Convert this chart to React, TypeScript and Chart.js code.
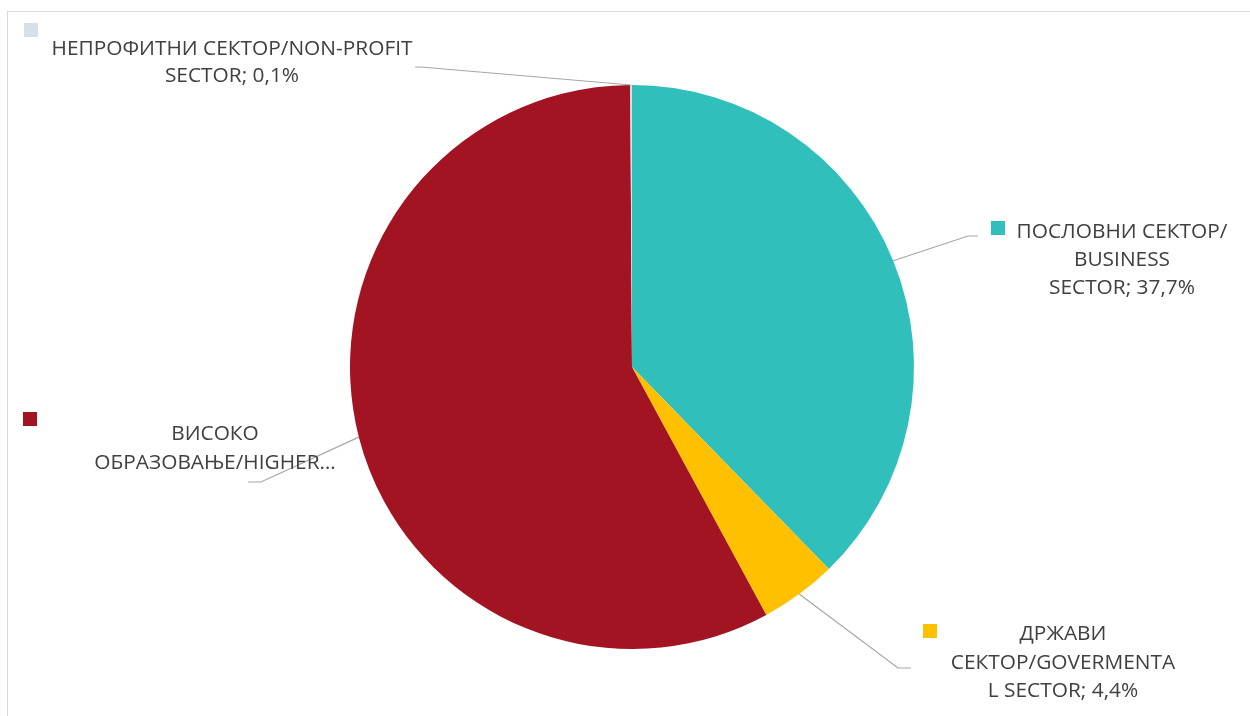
import React, { useEffect, useRef } from "react";
import { Chart, registerables } from "chart.js";

Chart.register(...registerables);

const categories = [
  "ПОСЛОВНИ СЕКТОР/BUSINESS SECTOR",
  "ДРЖАВИ СЕКТОР/GOVERMENTAL SECTOR",
  "ВИСОКО ОБРАЗОВАЊЕ/HIGHER EDUCATION",
  "НЕПРОФИТНИ СЕКТОР/NON-PROFIT SECTOR",
];
const values = [37.7, 4.4, 57.8, 0.1];
const colors = ["#31BFBC", "#FFC000", "#A21421", "#D5E1EA"];
// wrapped label lines as shown; "{v}" is replaced with the slice value
const labelLines = [
  ["ПОСЛОВНИ СЕКТОР/", "BUSINESS", "SECTOR; {v}"],
  ["ДРЖАВИ", "СЕКТОР/GOVERMENTA", "L SECTOR; {v}"],
  ["ВИСОКО", "ОБРАЗОВАЊЕ/HIGHER…"],
  ["НЕПРОФИТНИ СЕКТОР/NON-PROFIT", "SECTOR; {v}"],
];

const fmt = (v: number) => v.toFixed(1).replace(".", ",") + "%";

// label layout (text placement and leader-line elbows)
const labelLayout = [
  { cx: 1122, y0: 231, lh: 28, sq: [991, 221], elbow: [968, 236], end: [978, 236] },
  { cx: 1063, y0: 633, lh: 28.5, sq: [923, 624], elbow: [898, 668], end: [911, 668] },
  { cx: 215, y0: 433, lh: 29, sq: [23, 412], elbow: [261, 482], end: [248, 482] },
  { cx: 232, y0: 48, lh: 27, sq: [24, 23], elbow: [421, 67], end: [415, 67] },
];

const FONT = '"Open Sans", "Noto Sans", sans-serif';

const labelsPlugin = {
  id: "pieLabels",
  afterDatasetsDraw(chart: any) {
    const ctx: CanvasRenderingContext2D = chart.ctx;
    const meta = chart.getDatasetMeta(0);
    ctx.save();
    const size = 14 / 0.714;
    ctx.font = `${size}px ${FONT}`;
    const refW = ctx.measureText("НЕПРОФИТНИ СЕКТОР/NON-PROFIT").width;
    const sx = 361 / refW;
    meta.data.forEach((arc: any, i: number) => {
      const lay = labelLayout[i];
      const mid = (arc.startAngle + arc.endAngle) / 2;
      const px = arc.x + Math.cos(mid) * arc.outerRadius;
      const py = arc.y + Math.sin(mid) * arc.outerRadius;
      ctx.strokeStyle = "#A6A6A6";
      ctx.lineWidth = 1.2;
      ctx.beginPath();
      ctx.moveTo(px, py);
      ctx.lineTo(lay.elbow[0], lay.elbow[1]);
      ctx.lineTo(lay.end[0], lay.end[1]);
      ctx.stroke();
      ctx.fillStyle = colors[i];
      ctx.fillRect(lay.sq[0], lay.sq[1], 14, 14);
      ctx.fillStyle = "#404040";
      ctx.textAlign = "center";
      ctx.textBaseline = "alphabetic";
      labelLines[i].forEach((ln, j) => {
        const t = ln.replace("{v}", fmt(values[i]));
        ctx.save();
        ctx.translate(lay.cx, lay.y0 + j * lay.lh + 7);
        ctx.scale(sx, 1);
        ctx.fillText(t, 0, 0);
        ctx.restore();
      });
    });
    ctx.restore();
  },
};

export default function App() {
  const ref = useRef<HTMLCanvasElement>(null);
  useEffect(() => {
    if (!ref.current) return;
    const chart = new Chart(ref.current, {
      type: "pie",
      data: {
        labels: categories,
        datasets: [
          {
            data: values,
            backgroundColor: colors,
            borderWidth: 0,
          },
        ],
      },
      options: {
        responsive: false,
        animation: false,
        layout: { padding: { top: 85, bottom: 67, left: 350, right: 336 } },
        plugins: {
          legend: { display: false },
          tooltip: { enabled: false },
        },
      },
      plugins: [labelsPlugin],
    });
    return () => chart.destroy();
  }, []);
  return (
    <div
      style={{
        position: "fixed",
        left: 0,
        top: 0,
        width: 1250,
        height: 716,
        overflow: "hidden",
        background: "#fff",
      }}
    >
      <div
        style={{
          position: "absolute",
          left: 7,
          top: 11,
          width: 1400,
          height: 900,
          border: "1px solid #D9D9D9",
        }}
      />
      <canvas
        ref={ref}
        width={1250}
        height={716}
        style={{ position: "absolute", left: 0, top: 0 }}
      />
    </div>
  );
}
